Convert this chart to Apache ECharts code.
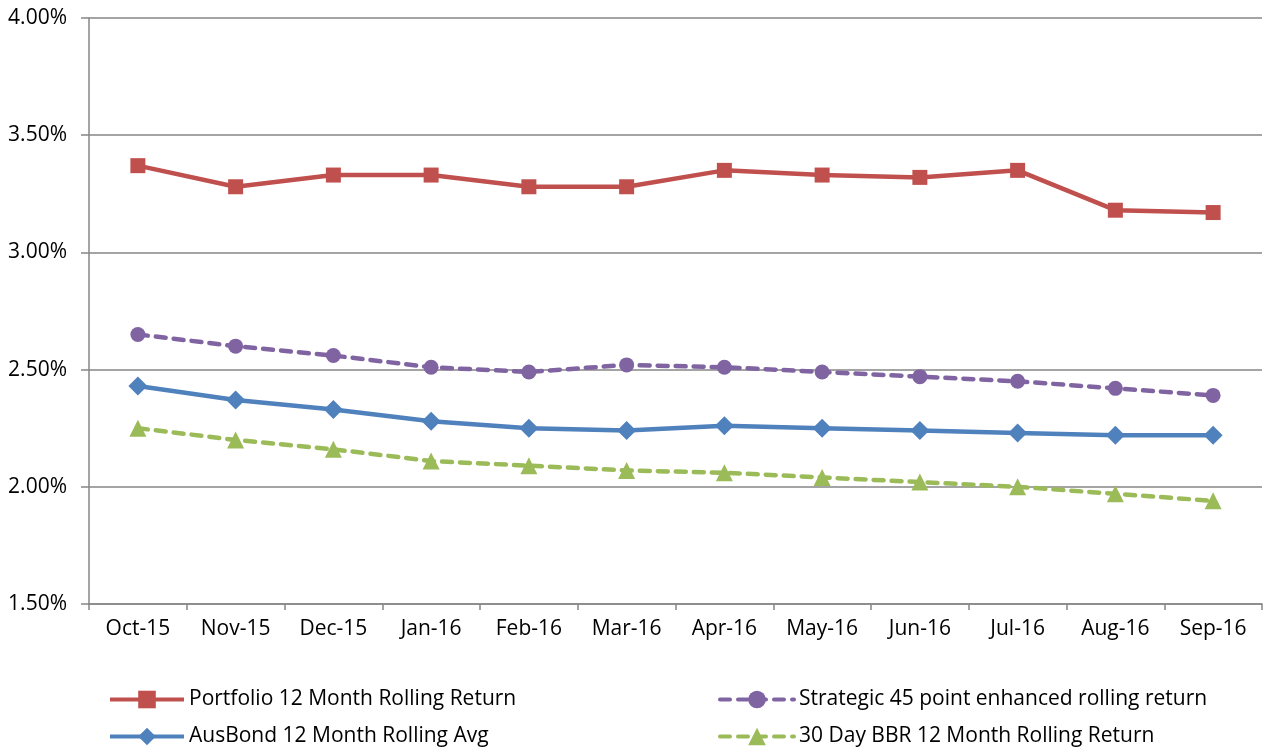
<!DOCTYPE html>
<html>
<head>
<meta charset="utf-8">
<script src="https://cdn.jsdelivr.net/npm/echarts@6/dist/echarts.min.js"></script>
<style>
  html, body { margin: 0; padding: 0; background: #fff; }
  #main { width: 1266px; height: 751px; }
</style>
</head>
<body>
<div id="main"></div>
<script>
// categories and series values (in %)
var months = ["Oct-15", "Nov-15", "Dec-15", "Jan-16", "Feb-16", "Mar-16", "Apr-16", "May-16", "Jun-16", "Jul-16", "Aug-16", "Sep-16"];
var portfolio = [3.37, 3.28, 3.33, 3.33, 3.28, 3.28, 3.35, 3.33, 3.32, 3.35, 3.18, 3.17];
var strategic = [2.65, 2.60, 2.56, 2.51, 2.49, 2.52, 2.51, 2.49, 2.47, 2.45, 2.42, 2.39];
var ausbond = [2.43, 2.37, 2.33, 2.28, 2.25, 2.24, 2.26, 2.25, 2.24, 2.23, 2.22, 2.22];
var bbr = [2.25, 2.20, 2.16, 2.11, 2.09, 2.07, 2.06, 2.04, 2.02, 2.00, 1.97, 1.94];

var font = "'Open Sans', 'Noto Sans', sans-serif";
var myChart = echarts.init(document.getElementById("main"));

// one legend box per item so the 2x2 layout is exact
function legendAt(name, left, top) {
    return {
        data: [name], left: left, top: top,
        itemWidth: 74, itemHeight: 22, itemGap: 6,
        lineStyle: { width: 4 },
        textStyle: { fontSize: 21, color: "#000", fontFamily: font }
    };
}

var option = {
    animation: false,
    grid: { left: 89, right: 4, top: 18, bottom: 147 },
    legend: [
        legendAt("Portfolio 12 Month Rolling Return", 103, 684),
        legendAt("AusBond 12 Month Rolling Avg", 103, 721),
        legendAt("Strategic 45 point enhanced rolling return", 713, 684),
        legendAt("30 Day BBR 12 Month Rolling Return", 713, 721)
    ],
    xAxis: {
        type: "category",
        data: months,
        boundaryGap: true,
        axisLine: { lineStyle: { color: "#868686", width: 1.5 } },
        axisTick: { show: true, length: 6, lineStyle: { color: "#868686", width: 1.5 } },
        axisLabel: { fontSize: 21, color: "#000", fontFamily: font, margin: 15 }
    },
    yAxis: {
        type: "value",
        min: 1.5, max: 4.0, interval: 0.5,
        axisLine: { show: true, lineStyle: { color: "#868686", width: 1.5 } },
        axisTick: { show: true, length: 8, lineStyle: { color: "#868686", width: 1.5 } },
        splitLine: { lineStyle: { color: "#868686", width: 1.5 } },
        axisLabel: {
            fontSize: 21, color: "#000", fontFamily: font, margin: 22,
            formatter: function (v) { return v.toFixed(2) + "%"; }
        }
    },
    series: [
        {
            name: "Portfolio 12 Month Rolling Return", type: "line", data: portfolio,
            symbol: "rect", symbolSize: 15,
            lineStyle: { color: "#C0504D", width: 4.5 },
            itemStyle: { color: "#C0504D" }
        },
        {
            name: "AusBond 12 Month Rolling Avg", type: "line", data: ausbond,
            symbol: "diamond", symbolSize: 19,
            lineStyle: { color: "#4F81BD", width: 4.5 },
            itemStyle: { color: "#4F81BD" }
        },
        {
            name: "Strategic 45 point enhanced rolling return", type: "line", data: strategic,
            symbol: "circle", symbolSize: 15,
            lineStyle: { color: "#8064A2", width: 4.5, type: [10, 8], cap: "round" },
            itemStyle: { color: "#8064A2" }
        },
        {
            name: "30 Day BBR 12 Month Rolling Return", type: "line", data: bbr,
            symbol: "triangle", symbolSize: 17,
            lineStyle: { color: "#9BBB59", width: 4.5, type: [10, 8], cap: "round" },
            itemStyle: { color: "#9BBB59" }
        }
    ]
};

myChart.setOption(option);
</script>
</body>
</html>
